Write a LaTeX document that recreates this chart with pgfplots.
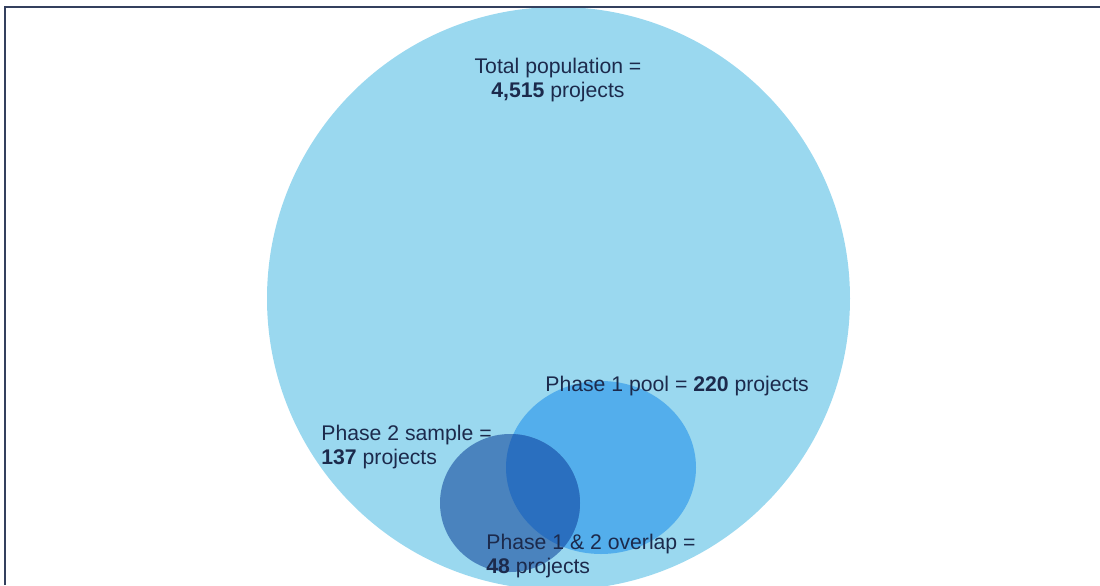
\documentclass[border=0pt]{standalone}
\usepackage{pgfplots}
\pgfplotsset{compat=1.18}
\usepackage{fontspec}
\setmainfont{Liberation Sans}

\definecolor{total}{HTML}{9AD8EF}
\definecolor{phaseone}{HTML}{53AEEC}
\definecolor{phasetwo}{HTML}{4A83BE}
\definecolor{overlap}{HTML}{2A6FBF}
\definecolor{ink}{HTML}{1C2A4C}
\definecolor{frame}{HTML}{34405E}

\begin{document}
\begin{tikzpicture}
  \begin{axis}[
      scale only axis,
      width=550pt, height=292.5pt,
      xmin=0, xmax=1100,
      ymin=0, ymax=585,
      y dir=reverse,
      hide axis,
      clip=true,
    ]
    % circles: centre x, centre y, radius x, radius y (pixels of the reference)
    \fill[total]    (axis cs:558.5,298.5) ellipse [x radius=291.5, y radius=291.5];
    \fill[phaseone] (axis cs:601,467.5) ellipse [x radius=95, y radius=86.5];
    \fill[phasetwo] (axis cs:510,503) ellipse [x radius=70, y radius=69];
    \begin{scope}
      \clip (axis cs:601,467.5) ellipse [x radius=95, y radius=86.5];
      \fill[overlap] (axis cs:510,503) ellipse [x radius=70, y radius=69];
    \end{scope}

    % frame
    \draw[frame, line width=1pt] (axis cs:5,585) -- (axis cs:5,6.5) -- (axis cs:1100,6.5);

    \begin{scope}[every node/.style={text=ink, inner sep=0pt, font=\fontsize{10.6}{11.8}\selectfont}]
      \node[align=center] at (axis cs:558,80) {Total population =\\\textbf{4,515} projects};
      \node[anchor=west] at (axis cs:545,386) {Phase 1 pool = \textbf{220} projects};
      \node[anchor=west, align=left] at (axis cs:321,447) {Phase 2 sample =\\\textbf{137} projects};
      \node[anchor=west, align=left] at (axis cs:486,556) {Phase 1 \& 2 overlap =\\\textbf{48} projects};
    \end{scope}
  \end{axis}
  \pgfresetboundingbox
  \path (current axis.south west) rectangle (current axis.north east);
\end{tikzpicture}
\end{document}
